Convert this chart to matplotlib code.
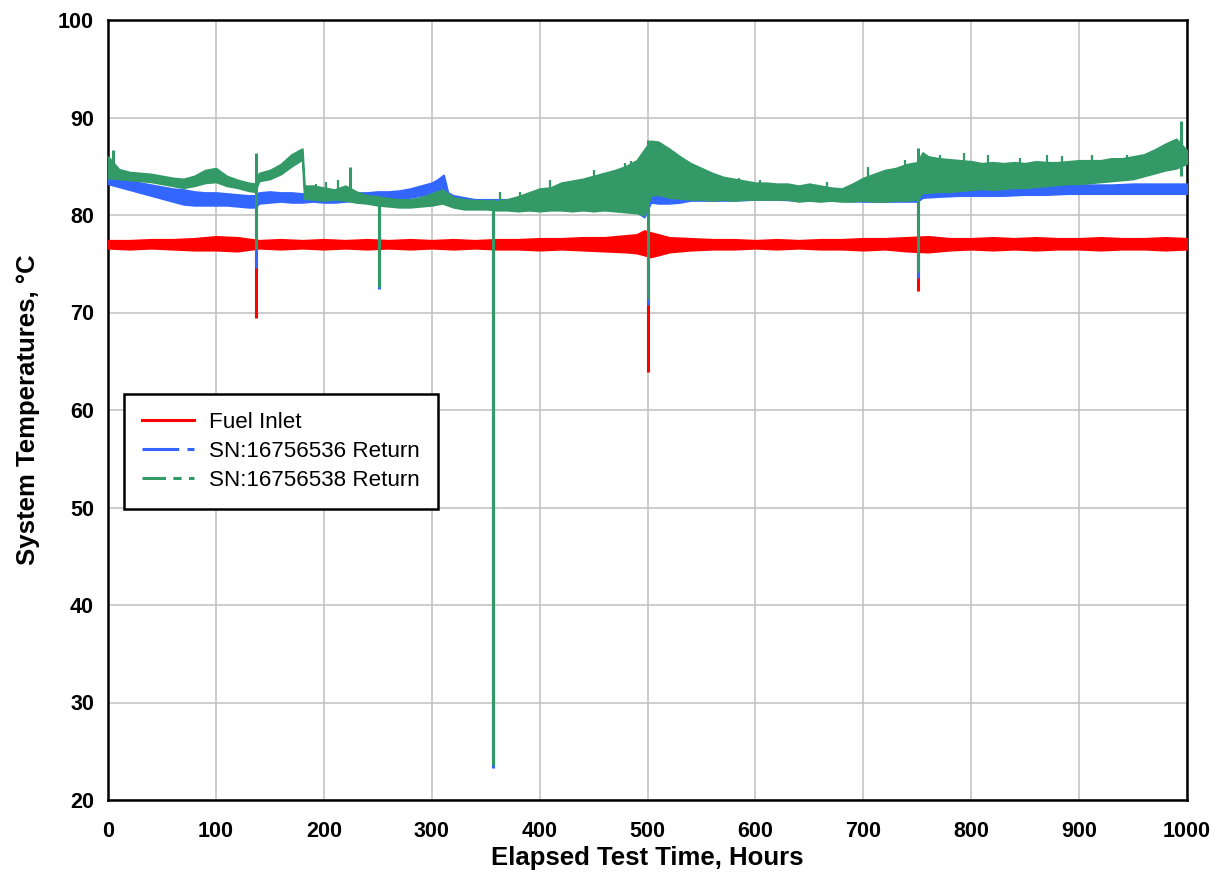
import matplotlib
matplotlib.use("Agg")
import matplotlib.pyplot as plt
from matplotlib.lines import Line2D
import numpy as np

# ---------------- data ----------------
series_names = ["Fuel Inlet", "SN:16756536 Return", "SN:16756538 Return"]
series_colors = ["#FF0000", "#3366FF", "#339966"]

# Fuel inlet band (low / high envelope)
red_hours = [0, 20, 40, 60, 80, 100, 120, 140, 160, 180, 200, 220, 240, 260, 280, 300,
             320, 340, 360, 380, 400, 420, 440, 460, 480, 490, 497, 503, 510, 520, 540,
             560, 580, 600, 620, 640, 660, 680, 700, 720, 740, 760, 780, 800, 820, 840,
             860, 880, 900, 920, 940, 960, 980, 1000]
red_low = [76.6, 76.5, 76.6, 76.5, 76.4, 76.4, 76.3, 76.6, 76.5, 76.6, 76.5, 76.6, 76.5, 76.6,
           76.5, 76.6, 76.5, 76.6, 76.5, 76.5, 76.4, 76.5, 76.4, 76.3, 76.2, 76.1, 75.9, 75.7,
           75.9, 76.2, 76.4, 76.5, 76.5, 76.6, 76.5, 76.6, 76.5, 76.5, 76.4, 76.5, 76.3, 76.2,
           76.4, 76.5, 76.4, 76.5, 76.4, 76.5, 76.5, 76.4, 76.5, 76.5, 76.4, 76.5]
red_high = [77.4, 77.4, 77.5, 77.5, 77.6, 77.8, 77.7, 77.4, 77.5, 77.4, 77.5, 77.4, 77.5, 77.4,
            77.5, 77.4, 77.5, 77.4, 77.5, 77.5, 77.6, 77.6, 77.7, 77.7, 77.9, 78.0, 78.4, 78.2,
            78.0, 77.7, 77.6, 77.5, 77.5, 77.4, 77.5, 77.4, 77.5, 77.5, 77.6, 77.6, 77.7, 77.8,
            77.6, 77.6, 77.7, 77.6, 77.7, 77.6, 77.6, 77.7, 77.6, 77.6, 77.7, 77.6]

# SN:16756536 return band
blue_hours = [0, 10, 20, 30, 40, 50, 60, 70, 80, 90, 100, 110, 120, 130, 136, 140, 150, 160,
              170, 180, 190, 200, 210, 220, 230, 240, 250, 260, 270, 280, 290, 300, 305, 311,
              315, 320, 330, 340, 360, 380, 400, 420, 440, 460, 480, 490, 497, 503, 510, 520,
              530, 540, 560, 580, 600, 620, 640, 660, 680, 700, 720, 740, 750, 755, 770, 790,
              810, 830, 850, 870, 890, 910, 930, 950, 970, 990, 1000]
blue_low = [83.2, 82.9, 82.6, 82.3, 82.0, 81.7, 81.4, 81.1, 81.0, 81.0, 81.0, 81.0, 80.9, 80.8,
            80.8, 81.2, 81.3, 81.4, 81.3, 81.3, 81.4, 81.3, 81.3, 81.4, 81.5, 81.5, 81.5, 81.5,
            81.6, 81.8, 82.0, 82.2, 82.4, 82.6, 81.5, 81.3, 81.0, 80.9, 80.8, 80.8, 80.8, 80.7,
            80.7, 80.6, 80.5, 80.3, 79.8, 81.3, 81.2, 81.2, 81.3, 81.5, 81.5, 81.5, 81.6, 81.6,
            81.5, 81.5, 81.5, 81.4, 81.4, 81.4, 81.4, 81.8, 81.9, 82.0, 82.0, 82.0, 82.1, 82.1,
            82.2, 82.2, 82.2, 82.2, 82.2, 82.2, 82.2]
blue_high = [84.5, 83.9, 83.6, 83.3, 83.1, 82.9, 82.7, 82.6, 82.4, 82.3, 82.3, 82.2, 82.1, 82.0,
             82.0, 82.3, 82.4, 82.3, 82.3, 82.2, 82.2, 82.2, 82.1, 82.2, 82.3, 82.3, 82.4, 82.4,
             82.5, 82.7, 83.0, 83.3, 83.6, 84.1, 82.3, 82.0, 81.8, 81.6, 81.6, 81.6, 81.6, 81.5,
             81.5, 81.4, 81.3, 81.2, 81.0, 82.6, 82.6, 82.3, 82.2, 82.2, 82.2, 82.2, 82.2, 82.2,
             82.1, 82.1, 82.0, 82.0, 82.0, 82.0, 82.0, 82.8, 82.8, 82.9, 82.9, 82.9, 83.0, 83.0,
             83.1, 83.1, 83.1, 83.2, 83.2, 83.2, 83.2]

# SN:16756538 return band
green_hours = [0, 10, 20, 30, 40, 50, 60, 70, 80, 90, 100, 110, 120, 130, 136, 140, 150, 160,
               170, 180, 182, 190, 200, 210, 220, 230, 240, 250, 260, 270, 280, 290, 300, 310,
               320, 330, 340, 350, 360, 370, 380, 390, 400, 410, 420, 430, 440, 450, 460, 470,
               480, 490, 497, 503, 510, 520, 530, 540, 550, 560, 570, 580, 590, 600, 610, 620,
               630, 640, 650, 660, 670, 680, 690, 700, 710, 720, 730, 740, 750, 755, 760, 770,
               780, 790, 800, 810, 820, 830, 840, 850, 860, 870, 880, 890, 900, 910, 920, 930,
               940, 950, 960, 970, 980, 990, 1000]
green_low = [83.8, 83.7, 83.6, 83.5, 83.4, 83.2, 83.0, 82.8, 83.0, 83.3, 83.4, 83.0, 82.8, 82.5,
             82.4, 83.5, 83.7, 84.2, 85.0, 85.7, 81.7, 81.6, 81.5, 81.6, 81.5, 81.3, 81.2, 81.0,
             80.9, 80.8, 80.8, 80.9, 81.0, 81.2, 80.8, 80.6, 80.6, 80.6, 80.5, 80.5, 80.4, 80.5,
             80.4, 80.5, 80.5, 80.4, 80.5, 80.4, 80.5, 80.4, 80.3, 80.2, 80.0, 82.0, 82.1, 81.8,
             81.7, 81.6, 81.6, 81.5, 81.6, 81.5, 81.6, 81.6, 81.6, 81.6, 81.6, 81.4, 81.5, 81.4,
             81.5, 81.4, 81.4, 81.5, 81.4, 81.4, 81.5, 81.5, 81.6, 82.3, 82.3, 82.4, 82.4, 82.5,
             82.6, 82.7, 82.6, 82.7, 82.8, 82.8, 82.9, 83.0, 83.1, 83.2, 83.2, 83.3, 83.4, 83.5,
             83.6, 83.7, 84.0, 84.3, 84.6, 84.8, 85.3]
green_high = [86.0, 84.7, 84.4, 84.3, 84.2, 84.0, 83.8, 83.7, 84.0, 84.6, 84.8, 84.0, 83.6, 83.3,
              83.2, 84.3, 84.6, 85.2, 86.2, 86.8, 83.0, 83.0, 82.8, 82.6, 83.0, 82.4, 82.0, 81.9,
              81.7, 81.6, 81.6, 81.8, 82.2, 82.6, 81.8, 81.6, 81.5, 81.5, 81.4, 81.6, 81.9, 82.3,
              82.7, 82.8, 83.3, 83.5, 83.7, 84.0, 84.3, 84.6, 85.0, 85.6, 86.7, 87.6, 87.5, 86.8,
              86.0, 85.3, 84.8, 84.3, 83.9, 83.7, 83.5, 83.3, 83.3, 83.2, 83.2, 83.0, 83.2, 83.0,
              82.8, 82.7, 83.2, 83.8, 84.2, 84.6, 84.8, 85.2, 85.4, 86.4, 86.0, 85.8, 85.7, 85.6,
              85.5, 85.3, 85.4, 85.3, 85.4, 85.3, 85.5, 85.4, 85.4, 85.5, 85.6, 85.6, 85.6, 85.8,
              85.8, 86.0, 86.2, 86.7, 87.3, 87.8, 86.6]

# short disturbances (vertical excursions): hour, low, high
red_spike_hours = [137, 500, 751]
red_spike_low = [69.4, 63.9, 72.2]
red_spike_high = [77.5, 78.2, 77.8]

blue_spike_hours = [137, 251, 357, 500, 751]
blue_spike_low = [74.6, 72.4, 23.3, 70.8, 73.5]
blue_spike_high = [82.2, 82.3, 81.5, 82.6, 82.6]

green_spike_hours = [5, 137, 224, 251, 357, 500, 751, 994]
green_spike_low = [84.5, 76.5, 82.0, 72.6, 23.6, 71.4, 74.2, 84.0]
green_spike_high = [86.7, 86.4, 84.9, 81.8, 81.6, 87.7, 86.9, 89.6]

# individual noise peaks on the upper edge of the SN:16756538 trace
green_peak_hours = [193, 202, 213, 363, 382, 410, 422, 434, 450, 459, 479, 485, 510, 536, 544,
                    552, 567, 585, 604, 666, 704, 724, 739, 771, 793, 816, 845, 870, 884, 912,
                    944, 973, 986]
green_peak_low = [82.0, 82.0, 82.0, 81.0, 81.0, 81.5, 81.5, 81.5, 82.0, 82.0, 82.5, 82.5, 84.0,
                  83.0, 83.0, 83.0, 82.5, 82.5, 82.5, 82.0, 82.5, 83.0, 83.0, 84.0, 84.0, 84.0,
                  84.0, 84.0, 84.0, 84.5, 84.5, 85.0, 85.5]
green_peak_high = [83.2, 83.4, 83.6, 82.4, 82.4, 83.6, 83.4, 83.6, 84.6, 84.3, 85.3, 85.5, 87.5,
                   85.3, 85.0, 84.6, 83.8, 83.8, 83.6, 83.4, 84.9, 84.7, 85.6, 86.2, 86.4, 86.2,
                   85.8, 86.2, 86.1, 86.2, 86.2, 86.6, 87.6]

x_ticks = [0, 100, 200, 300, 400, 500, 600, 700, 800, 900, 1000]
y_ticks = [20, 30, 40, 50, 60, 70, 80, 90, 100]

# ---------------- plot ----------------
plt.rcParams['font.family'] = ['Liberation Sans', 'DejaVu Sans']
fig = plt.figure(figsize=(12.2, 8.75), dpi=100)
ax = fig.add_axes([108 / 1220, 1 - 800 / 875, (1187 - 108) / 1220, (800 - 20) / 875])

bands = [
    (red_hours, red_low, red_high, red_spike_hours, red_spike_low, red_spike_high),
    (blue_hours, blue_low, blue_high, blue_spike_hours, blue_spike_low, blue_spike_high),
    (green_hours, green_low, green_high, green_spike_hours, green_spike_low, green_spike_high),
]
for (h, lo, hi, sh, slo, shi), col in zip(bands, series_colors):
    ax.fill_between(h, lo, hi, facecolor=col, edgecolor=col, linewidth=1.4, zorder=3)
    ax.vlines(sh, slo, shi, colors=col, linewidth=2.2, zorder=3)
ax.vlines(green_peak_hours, green_peak_low, green_peak_high, colors=series_colors[2],
          linewidth=1.6, zorder=3)

ax.set_xlim(0, 1000)
ax.set_ylim(20, 100)
ax.set_xticks(x_ticks)
ax.set_yticks(y_ticks)
ax.grid(True, color="#c0c0c0", linewidth=1.1)
ax.set_axisbelow(True)
for s in ax.spines.values():
    s.set_linewidth(1.8)
    s.set_color("black")
ax.tick_params(axis='both', length=0, labelsize=15.5)
ax.tick_params(axis='x', pad=15)
ax.tick_params(axis='y', pad=10)
for lab in ax.get_xticklabels() + ax.get_yticklabels():
    lab.set_fontweight('bold')

ax.set_xlabel("Elapsed Test Time, Hours", fontsize=18.5, fontweight='bold', labelpad=3)
ax.set_ylabel("System Temperatures, \u00b0C", fontsize=18.5, fontweight='bold', labelpad=13)

handles = [
    Line2D([], [], color=series_colors[0], linewidth=2.2),
    Line2D([], [], color=series_colors[1], linewidth=2.2, dashes=(12, 2.7)),
    Line2D([], [], color=series_colors[2], linewidth=2.2, dashes=(7.7, 2.4, 2.7, 2.4)),
]
leg = ax.legend(handles, series_names, loc='upper left', bbox_to_anchor=(0.0148, 0.5205),
                borderaxespad=0, fontsize=16.1, frameon=True, fancybox=False, framealpha=1,
                edgecolor='black', handlelength=2.35, handletextpad=0.65, borderpad=0.8,
                labelspacing=0.36)
leg.get_frame().set_linewidth(1.8)
leg.set_zorder(10)

fig.savefig("out.png", dpi=100)
